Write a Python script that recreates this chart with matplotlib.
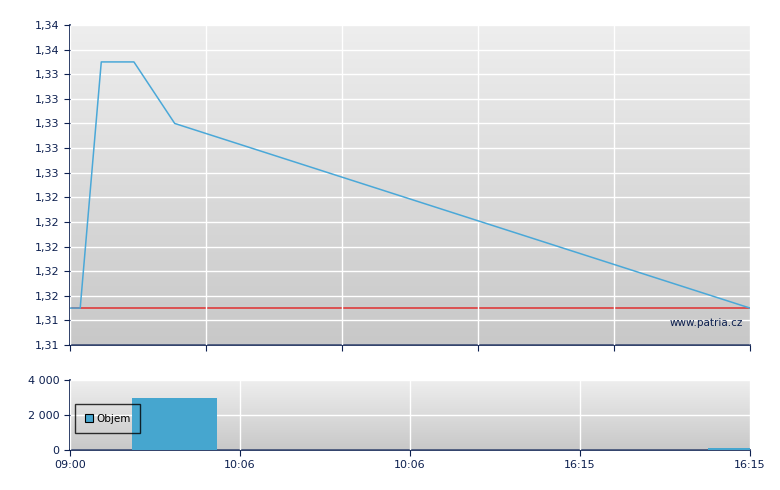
import matplotlib
matplotlib.use("Agg")
import matplotlib.pyplot as plt
import numpy as np
from matplotlib.ticker import FixedLocator, FuncFormatter
from matplotlib.colors import LinearSegmentedColormap

# ---- data ----
price_x = [0, 1.5, 4.6, 9.4, 15.4, 100]
price_y = [1.315, 1.315, 1.335, 1.335, 1.330, 1.315]
ref_price = 1.315
vol_x = [15.4, 96.9]
vol_w = [12.5, 6.2]
vol_y = [3000, 120]
top_xticks = [0, 20, 40, 60, 80, 100]
bot_xticks = [0, 25, 50, 75, 100]
bot_xlabels = ["09:00", "10:06", "10:06", "16:15", "16:15"]
price_ticks = [1.312 + 0.002 * i for i in range(14)]
vol_ticks = [0, 2000, 4000]

navy = "#0d2050"
line_c = "#4aa8d8"
bar_c = "#46a6cf"

fig = plt.figure(figsize=(7.8, 4.9), dpi=100)
ax1 = fig.add_axes([70/780, 1-345/490, 680/780, 320/490])
ax2 = fig.add_axes([70/780, 1-450/490, 680/780, 70/490])

def grad(ax):
    g = np.linspace(0, 1, 256).reshape(-1, 1)
    cm = LinearSegmentedColormap.from_list("g", ["#c8c8c8", "#eeeeee"])
    ax.imshow(g, aspect="auto", cmap=cm, origin="lower", extent=[0, 1, 0, 1],
              transform=ax.transAxes, zorder=0)

for ax in (ax1, ax2):
    grad(ax)
    for s in ("top", "right"):
        ax.spines[s].set_visible(False)
    for s in ("left", "bottom"):
        ax.spines[s].set_color(navy)
        ax.spines[s].set_linewidth(1.2)
    ax.tick_params(colors=navy, labelcolor=navy, labelsize=8, length=4, direction="out")
    ax.grid(True, color="white", linewidth=1.0, zorder=1)
    ax.set_axisbelow(False)

# top chart
ax1.plot(price_x, price_y, color=line_c, lw=1.1, zorder=3)
ax1.axhline(ref_price, color="#e03030", lw=1.1, zorder=2)
ax1.set_xlim(0, 100)
ax1.set_ylim(price_ticks[0], price_ticks[-1])
ax1.yaxis.set_major_locator(FixedLocator(price_ticks))
ax1.yaxis.set_major_formatter(FuncFormatter(lambda v, p: f"{v:.2f}".replace(".", ",")))
ax1.xaxis.set_major_locator(FixedLocator(top_xticks))
ax1.set_xticklabels([])
ax1.text(0.99, 0.07, "www.patria.cz", transform=ax1.transAxes, ha="right", va="center",
         fontsize=7.5, color=navy, zorder=4)
for l in ax1.get_ygridlines() + ax1.get_xgridlines():
    l.set_zorder(1)

# bottom chart
ax2.bar(vol_x, vol_y, width=vol_w, color=bar_c, zorder=3, label="Objem")
ax2.set_xlim(0, 100)
ax2.set_ylim(0, 4000)
ax2.yaxis.set_major_locator(FixedLocator(vol_ticks))
ax2.yaxis.set_major_formatter(FuncFormatter(lambda v, p: f"{int(v):,}".replace(",", " ")))
ax2.xaxis.set_major_locator(FixedLocator(bot_xticks))
ax2.set_xticklabels(bot_xlabels)
leg = ax2.legend(loc="lower left", bbox_to_anchor=(0.003, 0.2), fancybox=False,
                 edgecolor="black", facecolor="none", framealpha=None, fontsize=7.5,
                 handlelength=0.8, handleheight=0.8, borderpad=0.9, handletextpad=0.3,
                 borderaxespad=0.3)
leg.get_frame().set_linewidth(1.0)
leg.get_frame().set_edgecolor("black")
for h in leg.legend_handles:
    h.set_edgecolor("black")
    h.set_linewidth(0.8)
leg.set_zorder(5)

fig.savefig("out.png", dpi=100, facecolor="white")
